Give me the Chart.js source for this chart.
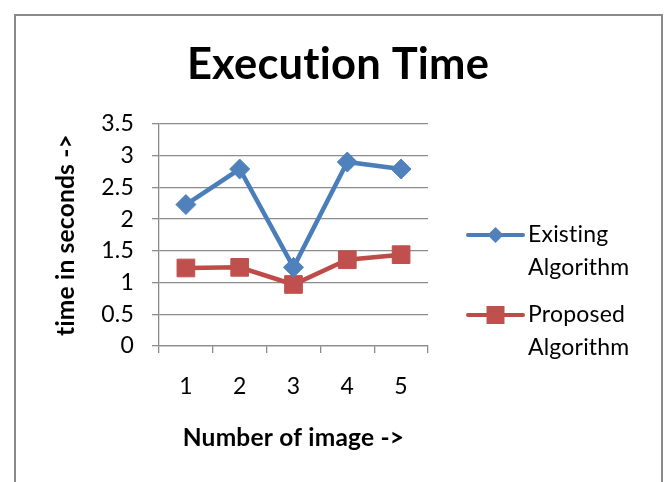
<!DOCTYPE html>
<html>
<head>
<meta charset="utf-8">
<script src="https://cdn.jsdelivr.net/npm/chart.js@4.4.1/dist/chart.umd.min.js"></script>
<style>
  html, body { margin: 0; padding: 0; background: #ffffff; }
  #wrap { position: relative; width: 664px; height: 482px; overflow: hidden; }
  #frame { position: absolute; left: 14px; top: 14px; width: 645px; height: 520px; border: 2px solid #8a8a8a; box-sizing: content-box; }
  #c { position: absolute; left: 0; top: 0; }
</style>
</head>
<body>
<div id="wrap">
  <div id="frame"></div>
  <canvas id="c" width="664" height="482"></canvas>
</div>
<script>
const categories = ['1', '2', '3', '4', '5'];
const existingValues = [2.23, 2.79, 1.24, 2.90, 2.79];
const proposedValues = [1.23, 1.24, 0.97, 1.36, 1.44];
const seriesNames = [['Existing', 'Algorithm'], ['Proposed', 'Algorithm']];
const yTickValues = [0, 0.5, 1, 1.5, 2, 2.5, 3, 3.5];
const chartTitle = 'Execution Time';
const xTitle = 'Number of image ->';
const yTitle = 'time in seconds ->';

const FONT = 'Lato';
const BLUE_LINE = '#4A7EBB', BLUE_FILL = '#4F81BD';
const RED_LINE = '#BE4B48', RED_FILL = '#C0504D';
const GRID = '#8c8c8c';

function drawMarker(ctx, style, x, y, r, fill) {
  ctx.save();
  ctx.fillStyle = fill;
  ctx.beginPath();
  if (style === 'rectRot') {
    ctx.moveTo(x, y - r); ctx.lineTo(x + r, y); ctx.lineTo(x, y + r); ctx.lineTo(x - r, y);
  } else {
    ctx.rect(x - r, y - r, 2 * r, 2 * r);
  }
  ctx.closePath();
  ctx.fill();
  ctx.restore();
}

const noLigatures = {
  id: 'noLigatures',
  beforeDraw(chart) {
    const ctx = chart.ctx;
    try { ctx.textRendering = 'optimizeSpeed'; } catch (e) {}
    try { ctx.letterSpacing = '0.2px'; } catch (e) {}
  }
};

const legendPlugin = {
  id: 'sideLegend',
  afterDraw(chart) {
    const ctx = chart.ctx;
    const area = chart.chartArea;
    const x0 = area.right + 40, x1 = area.right + 95, tx = area.right + 100;
    const rowTop = [235, 315];
    const lh = 33;
    chart.data.datasets.forEach((ds, i) => {
      const y = rowTop[i];
      ctx.save();
      ctx.strokeStyle = ds.borderColor;
      ctx.lineWidth = 4;
      ctx.lineCap = 'round';
      ctx.beginPath(); ctx.moveTo(x0, y); ctx.lineTo(x1, y); ctx.stroke();
      drawMarker(ctx, ds.pointStyle, (x0 + x1) / 2, y, ds.pointStyle === 'rectRot' ? 8 : 9, ds.pointBackgroundColor);
      ctx.fillStyle = '#000';
      ctx.font = '23px ' + FONT;
      ctx.textBaseline = 'middle';
      ctx.textAlign = 'left';
      ds.label.forEach((t, k) => ctx.fillText(t, tx, y + k * lh));
      ctx.restore();
    });
  }
};

new Chart(document.getElementById('c'), {
  type: 'line',
  data: {
    labels: categories,
    datasets: [
      {
        label: seriesNames[0], data: existingValues,
        borderColor: BLUE_LINE, backgroundColor: BLUE_FILL,
        borderWidth: 4.5, pointStyle: 'rectRot', pointRadius: 10,
        pointBackgroundColor: BLUE_FILL, pointBorderColor: BLUE_FILL, pointBorderWidth: 1,
        tension: 0, yAxisID: 'y'
      },
      {
        label: seriesNames[1], data: proposedValues,
        borderColor: RED_LINE, backgroundColor: RED_FILL,
        borderWidth: 4.5, pointStyle: 'rect', pointRadius: 12.5,
        pointBackgroundColor: RED_FILL, pointBorderColor: RED_FILL, pointBorderWidth: 1,
        tension: 0, yAxisID: 'y'
      }
    ]
  },
  options: {
    responsive: false,
    animation: false,
    devicePixelRatio: 1,
    layout: { padding: { left: 12, right: 0, top: 0, bottom: 0 } },
    plugins: {
      legend: { display: false },
      tooltip: { enabled: false },
      title: {
        display: true, text: chartTitle, color: '#000',
        font: { family: FONT, size: 43.5, weight: 'bold', lineHeight: 1.2 },
        padding: { top: 38.9, bottom: 32.9 }
      }
    },
    scales: {
      x: {
        type: 'category', offset: true,
        afterFit: s => { s.height = 136; },
        grid: { display: true, offset: true, drawOnChartArea: false, drawTicks: true, tickLength: 7, color: GRID, lineWidth: 1.3 },
        border: { display: true, color: GRID, width: 1.3 },
        ticks: { color: '#000', font: { family: FONT, size: 23 }, padding: 20, maxRotation: 0 },
        title: { display: true, text: xTitle, color: '#000', font: { family: FONT, size: 24.5, weight: 'bold', lineHeight: 1.2 }, padding: { top: 0, bottom: 29 } }
      },
      y: {
        type: 'linear', position: 'left', min: 0, max: 3.5,
        afterFit: s => { s.width = 147; },
        afterBuildTicks: s => { s.ticks = yTickValues.map(v => ({ value: v })); },
        grid: { color: GRID, lineWidth: 1.3, drawTicks: true, tickLength: 7 },
        border: { display: true, color: GRID, width: 1.3 },
        ticks: { color: '#000', font: { family: FONT, size: 23 }, padding: 18, callback: v => String(v) },
        title: { display: true, text: yTitle, color: '#000', font: { family: FONT, size: 24.5, weight: 'bold', lineHeight: 1.2 }, padding: { top: 39, bottom: 0 } }
      },
      reserve: {
        type: 'linear', position: 'right', display: true, min: 0, max: 1,
        afterFit: s => { s.width = 236; },
        grid: { display: false, drawTicks: false }, border: { display: false },
        ticks: { display: false }
      }
    }
  },
  plugins: [noLigatures, legendPlugin]
});
</script>
</body>
</html>
